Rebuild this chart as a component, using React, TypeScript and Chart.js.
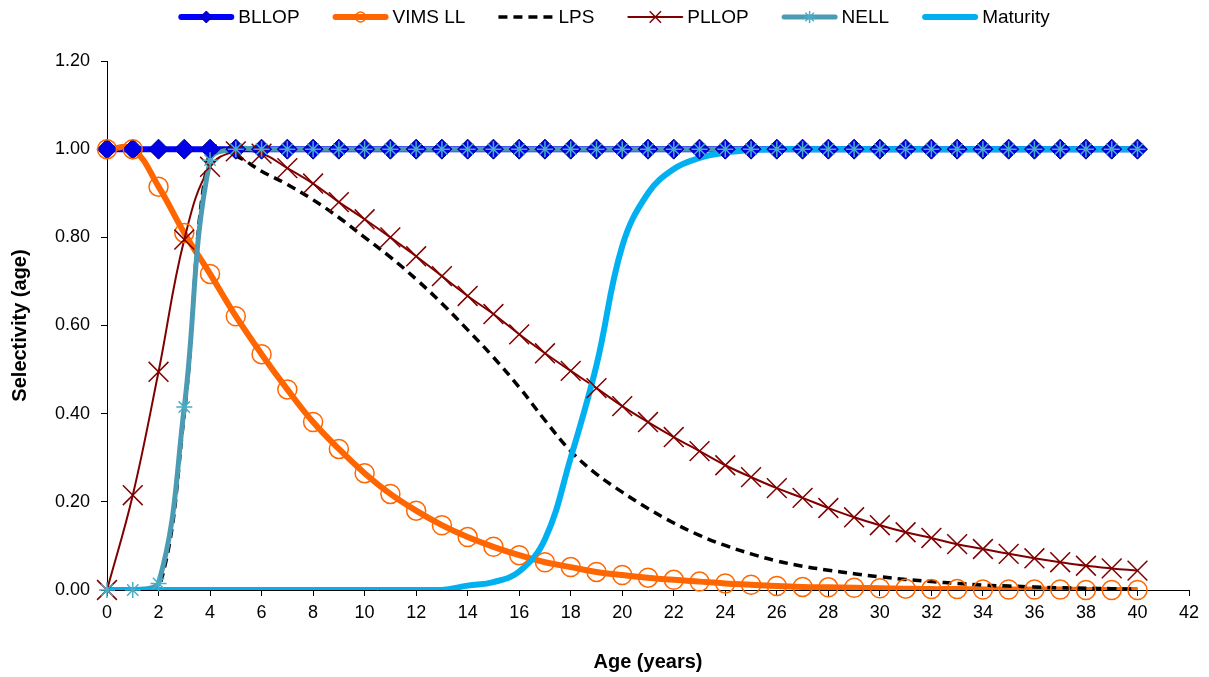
import React, { useEffect, useRef } from 'react';
import { Chart, registerables } from 'chart.js';
import { drawPoint } from 'chart.js/helpers';

Chart.register(...registerables);

const AGES = [0, 1, 2, 3, 4, 5, 6, 7, 8, 9, 10, 11, 12, 13, 14, 15, 16, 17, 18, 19, 20, 21, 22, 23, 24, 25, 26, 27, 28, 29, 30, 31, 32, 33, 34, 35, 36, 37, 38, 39, 40];

const BLLOP = [1, 1, 1, 1, 1, 1, 1, 1, 1, 1, 1, 1, 1, 1, 1, 1, 1, 1, 1, 1, 1, 1, 1, 1, 1, 1, 1, 1, 1, 1, 1, 1, 1, 1, 1, 1, 1, 1, 1, 1, 1];

const VIMS_LL = [1.0, 1.0, 0.915, 0.81, 0.717, 0.621, 0.535, 0.455, 0.381, 0.32, 0.265, 0.218, 0.18, 0.147, 0.12, 0.098, 0.079, 0.063, 0.052, 0.041, 0.034, 0.028, 0.023, 0.019, 0.015, 0.012, 0.009, 0.007, 0.006, 0.005, 0.004, 0.003, 0.002, 0.002, 0.001, 0.001, 0.001, 0.001, 0.0, 0.0, 0.0];

const LPS = [0, 0, 0, 0.40, 1.0, 0.985, 0.95, 0.92, 0.885, 0.845, 0.80, 0.755, 0.705, 0.65, 0.59, 0.528, 0.46, 0.385, 0.315, 0.263, 0.222, 0.185, 0.152, 0.124, 0.101, 0.082, 0.066, 0.054, 0.045, 0.037, 0.030, 0.024, 0.019, 0.015, 0.011, 0.009, 0.007, 0.005, 0.004, 0.003, 0.002];

const PLLOP = [0, 0.215, 0.495, 0.795, 0.96, 0.995, 0.99, 0.957, 0.922, 0.88, 0.841, 0.80, 0.757, 0.712, 0.667, 0.626, 0.58, 0.537, 0.497, 0.458, 0.417, 0.381, 0.347, 0.315, 0.283, 0.256, 0.231, 0.209, 0.186, 0.165, 0.147, 0.131, 0.118, 0.104, 0.093, 0.082, 0.072, 0.063, 0.055, 0.049, 0.044];

const NELL = [0, 0, 0.015, 0.415, 0.975, 1, 1, 1, 1, 1, 1, 1, 1, 1, 1, 1, 1, 1, 1, 1, 1, 1, 1, 1, 1, 1, 1, 1, 1, 1, 1, 1, 1, 1, 1, 1, 1, 1, 1, 1, 1];

const MATURITY = [0, 0, 0, 0, 0, 0, 0, 0, 0, 0, 0, 0, 0, 0, 0.01, 0.018, 0.042, 0.115, 0.30, 0.51, 0.78, 0.90, 0.955, 0.98, 0.992, 0.998, 1, 1, 1, 1, 1, 1, 1, 1, 1, 1, 1, 1, 1, 1, 1];

const SERIES_NAMES = ['BLLOP', 'VIMS LL', 'LPS', 'PLLOP', 'NELL', 'Maturity'];
const X_TITLE = 'Age (years)';
const Y_TITLE = 'Selectivity (age)';
const X_MIN = 0;
const X_MAX = 42;
const X_STEP = 2;
const Y_MIN = 0;
const Y_MAX = 1.2;
const Y_STEP = 0.2;

const FONT = '"Liberation Sans", Arial, sans-serif';

type Style = {
  color: string;
  width: number;
  dash: number[];
  marker: string | false;
  markerRadius: number;
  markerFill: string;
  markerBorder: string;
  markerBorderWidth: number;
};

const STYLES: Style[] = [
  { color: '#0000FF', width: 6, dash: [], marker: 'rectRot', markerRadius: 10, markerFill: '#0000E6', markerBorder: '#00008B', markerBorderWidth: 1 },
  { color: '#FF6600', width: 6, dash: [], marker: 'circle', markerRadius: 9.5, markerFill: 'rgba(0,0,0,0)', markerBorder: '#FF6600', markerBorderWidth: 1.5 },
  { color: '#000000', width: 3.5, dash: [9, 6], marker: false, markerRadius: 0, markerFill: '', markerBorder: '', markerBorderWidth: 0 },
  { color: '#800000', width: 2, dash: [], marker: 'crossRot', markerRadius: 14, markerFill: '#800000', markerBorder: '#800000', markerBorderWidth: 1.5 },
  { color: '#4A9BB3', width: 5, dash: [], marker: 'star', markerRadius: 8, markerFill: '#4BACC6', markerBorder: '#4BACC6', markerBorderWidth: 1.5 },
  { color: '#00B0F0', width: 6, dash: [], marker: false, markerRadius: 0, markerFill: '', markerBorder: '', markerBorderWidth: 0 },
];

const LEGEND_MARKER_RADIUS = [6, 5, 0, 8, 6, 0];

const toPoints = (ys: number[]) => AGES.map((x, i) => ({ x, y: ys[i] }));

const overlayPlugin = {
  id: 'overlay',
  afterDraw(chart: any) {
    const { ctx, chartArea } = chart;
    ctx.save();
    ctx.fillStyle = '#000';
    ctx.font = 'bold 20px ' + FONT;
    ctx.textAlign = 'center';
    ctx.textBaseline = 'middle';
    ctx.fillText(X_TITLE, (chartArea.left + chartArea.right) / 2, 662);
    ctx.save();
    ctx.translate(20, (chartArea.top + chartArea.bottom) / 2);
    ctx.rotate(-Math.PI / 2);
    ctx.fillText(Y_TITLE, 0, 0);
    ctx.restore();

    // legend
    const lineLen = 56;
    const gap = 4;
    const spacing = 33;
    const ly = 17;
    ctx.font = '19px ' + FONT;
    const widths = SERIES_NAMES.map((n) => ctx.measureText(n).width);
    const total = widths.reduce((a, w) => a + lineLen + gap + w, 0) + spacing * (SERIES_NAMES.length - 1);
    let x = 614 - total / 2;
    SERIES_NAMES.forEach((name, i) => {
      const s = STYLES[i];
      ctx.save();
      ctx.strokeStyle = s.color;
      ctx.lineWidth = s.width;
      ctx.setLineDash(s.dash);
      ctx.lineCap = s.dash.length ? 'butt' : 'round';
      ctx.beginPath();
      ctx.moveTo(x + (s.dash.length ? 0 : s.width / 2), ly);
      ctx.lineTo(x + lineLen - (s.dash.length ? 0 : s.width / 2), ly);
      ctx.stroke();
      ctx.restore();
      if (s.marker) {
        ctx.save();
        ctx.fillStyle = s.markerFill;
        ctx.strokeStyle = s.markerBorder;
        ctx.lineWidth = s.markerBorderWidth;
        drawPoint(ctx, { pointStyle: s.marker as any, radius: LEGEND_MARKER_RADIUS[i], rotation: 0, borderWidth: s.markerBorderWidth }, x + lineLen / 2, ly);
        ctx.restore();
      }
      ctx.fillStyle = '#000';
      ctx.textAlign = 'left';
      ctx.textBaseline = 'middle';
      ctx.fillText(name, x + lineLen + gap, ly + 1);
      x += lineLen + gap + widths[i] + spacing;
    });
    ctx.restore();
  },
};

export default function App() {
  const ref = useRef<HTMLCanvasElement | null>(null);

  useEffect(() => {
    if (!ref.current) return;
    const all = [BLLOP, VIMS_LL, LPS, PLLOP, NELL, MATURITY];
    const lineSets = all.map((ys, i) => ({
      label: SERIES_NAMES[i],
      data: toPoints(ys),
      borderColor: STYLES[i].color,
      backgroundColor: STYLES[i].color,
      borderWidth: STYLES[i].width,
      borderDash: STYLES[i].dash,
      borderCapStyle: 'butt' as const,
      pointRadius: 0,
      tension: 0.4,
      showLine: true,
      fill: false,
      order: 20 - i,
    }));
    const markerSets = all
      .map((ys, i) => ({ ys, i }))
      .filter(({ i }) => STYLES[i].marker)
      .map(({ ys, i }) => ({
        label: SERIES_NAMES[i] + ' markers',
        data: toPoints(ys),
        showLine: false,
        pointStyle: STYLES[i].marker as any,
        pointRadius: STYLES[i].markerRadius,
        pointBackgroundColor: STYLES[i].markerFill,
        pointBorderColor: STYLES[i].markerBorder,
        pointBorderWidth: STYLES[i].markerBorderWidth,
        order: 10 - i,
        clip: false as any,
      }));

    const chart = new Chart(ref.current, {
      type: 'scatter',
      data: { datasets: [...lineSets, ...markerSets] as any },
      options: {
        animation: false,
        responsive: false,
        maintainAspectRatio: false,
        layout: { padding: { top: 61, right: 20, left: 0, bottom: 0 } },
        plugins: { legend: { display: false }, tooltip: { enabled: false } },
        scales: {
          x: {
            type: 'linear',
            min: X_MIN,
            max: X_MAX,
            ticks: { stepSize: X_STEP, color: '#000', font: { family: FONT, size: 18 }, padding: 6, maxRotation: 0 },
            grid: { drawOnChartArea: false, drawTicks: true, tickLength: 6, color: '#000' },
            border: { display: true, color: '#000', width: 1 },
            afterFit: (scale: any) => { scale.height = 87; },
          },
          y: {
            type: 'linear',
            min: Y_MIN,
            max: Y_MAX,
            ticks: { stepSize: Y_STEP, color: '#000', font: { family: FONT, size: 18 }, padding: 11, callback: (v: any) => Number(v).toFixed(2) },
            grid: { drawOnChartArea: false, drawTicks: true, tickLength: 6, color: '#000' },
            border: { display: true, color: '#000', width: 1 },
            afterFit: (scale: any) => { scale.width = 107; },
          },
        },
      },
      plugins: [overlayPlugin],
    });
    return () => chart.destroy();
  }, []);

  return (
    <div style={{ position: 'fixed', left: 0, top: 0, width: 1209, height: 677, background: '#fff' }}>
      <canvas ref={ref} width={1209} height={677} style={{ width: 1209, height: 677, display: 'block' }} />
    </div>
  );
}
